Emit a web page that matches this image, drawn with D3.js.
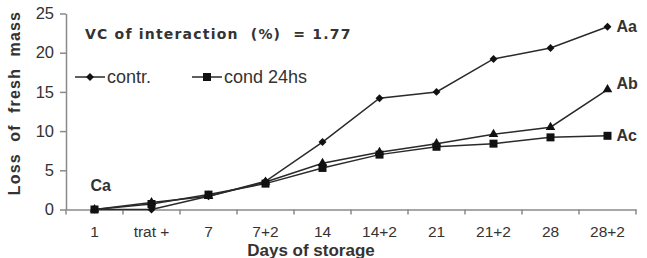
<!DOCTYPE html>
<html>
<head>
<meta charset="utf-8">
<script src="https://cdn.jsdelivr.net/npm/d3@7"></script>
<style>
  body { margin: 0; background: #fff; }
  svg { display: block; font-family: "Liberation Sans", Arial, sans-serif; }
</style>
</head>
<body>
<svg id="drawing_region"></svg>
<script>
// data
const days = ["1", "trat +", "7", "7+2", "14", "14+2", "21", "21+2", "28", "28+2"];
const contr = [0, 0, 1.7, 3.6, 8.6, 14.2, 15.0, 19.2, 20.6, 23.3];
const cond24 = [0, 0.7, 1.9, 3.3, 5.3, 7.0, 8.0, 8.4, 9.2, 9.4];
const third = [0, 0.9, 1.7, 3.5, 5.9, 7.3, 8.4, 9.6, 10.5, 15.3];
const yTicks = [0, 5, 10, 15, 20, 25];
const endLabels = ["Aa", "Ac", "Ab"];

const config = {
    width: 647,
    height: 258,
    margin: { top: 13.5, right: 11, bottom: 48.5, left: 66 }
};

const svg = d3.select('#drawing_region')
    .attr('width', config.width)
    .attr('height', config.height);

const inner_width = config.width - config.margin.left - config.margin.right;
const inner_height = config.height - config.margin.top - config.margin.bottom;

const chart = svg.append('g')
    .attr('transform', `translate(${config.margin.left}, ${config.margin.top})`);

const xscale = d3.scaleBand().domain(days).range([0, inner_width]);
const yscale = d3.scaleLinear().domain([0, 25]).range([inner_height, 0]);

const axisColor = "#8a8a8a";
const textColor = "#333";

// axes
const xaxis_group = chart.append('g')
    .attr('transform', `translate(0, ${inner_height})`)
    .call(d3.axisBottom(xscale).tickSizeOuter(0).tickSize(0).tickPadding(16));
xaxis_group.select('.domain').attr('stroke', axisColor).attr('stroke-width', 1.5);
xaxis_group.selectAll('text').attr('font-size', 15.5).attr('fill', textColor)
    .attr('font-family', '"Liberation Sans", Arial, sans-serif');
// ticks between categories
chart.append('g').selectAll('line')
    .data(d3.range(days.length + 1))
    .join('line')
    .attr('x1', i => i * xscale.step())
    .attr('x2', i => i * xscale.step())
    .attr('y1', inner_height)
    .attr('y2', inner_height + 5)
    .attr('stroke', axisColor)
    .attr('stroke-width', 1.5);

const yaxis_group = chart.append('g')
    .call(d3.axisLeft(yscale).tickValues(yTicks).tickSize(6).tickSizeOuter(0).tickPadding(6));
yaxis_group.select('.domain').attr('stroke', axisColor).attr('stroke-width', 1.5);
yaxis_group.selectAll('line').attr('stroke', axisColor).attr('stroke-width', 1.5);
yaxis_group.selectAll('text').attr('font-size', 16.5).attr('fill', textColor)
    .attr('font-family', '"Liberation Sans", Arial, sans-serif');

// axis titles
svg.append('text')
    .attr('x', 311)
    .attr('y', 255.5)
    .attr('text-anchor', 'middle')
    .attr('font-size', 17)
    .attr('font-weight', 'bold')
    .attr('fill', textColor)
    .text('Days of storage');

svg.append('text')
    .attr('transform', 'translate(20, 103) rotate(-90)')
    .attr('text-anchor', 'middle')
    .attr('font-size', 16)
    .attr('font-weight', 'bold')
    .attr('letter-spacing', 1.2)
    .attr('fill', textColor)
    .attr('xml:space', 'preserve')
    .text('Loss  of  fresh  mass');

svg.append('text')
    .attr('x', 85)
    .attr('y', 39)
    .attr('font-size', 14)
    .attr('font-weight', 'bold')
    .attr('font-family', '"DejaVu Sans", Verdana, sans-serif')
    .attr('letter-spacing', 1.2)
    .attr('fill', textColor)
    .attr('xml:space', 'preserve')
    .text('VC of interaction  (%)  = 1.77');

// series
const series = [
    { name: "contr.", values: contr, symbol: d3.symbolDiamond2, size: 40 },
    { name: "cond 24hs", values: cond24, symbol: d3.symbolSquare, size: 64 },
    { name: "", values: third, symbol: d3.symbolTriangle, size: 40 }
];

const line = d3.line()
    .x((d, i) => xscale(days[i]) + xscale.bandwidth() / 2)
    .y(d => yscale(d));

series.forEach(s => {
    chart.append('path')
        .datum(s.values)
        .attr('fill', 'none')
        .attr('stroke', '#2a2a2a')
        .attr('stroke-width', 1.5)
        .attr('d', line);
});
series.forEach(s => {
    chart.append('g').selectAll('path')
        .data(s.values)
        .join('path')
        .attr('transform', (d, i) => `translate(${xscale(days[i]) + xscale.bandwidth() / 2}, ${yscale(d)})`)
        .attr('d', d3.symbol().type(s.symbol).size(s.size))
        .attr('fill', '#111');
});

// end labels
const lastX = xscale(days[days.length - 1]) + xscale.bandwidth() / 2;
[contr, cond24, third].forEach((v, i) => {
    chart.append('text')
        .attr('x', lastX + 9)
        .attr('y', yscale(v[v.length - 1]) + (i === 2 ? -6 : 0))
        .attr('dy', '0.35em')
        .attr('font-size', 16)
        .attr('font-weight', 'bold')
        .attr('fill', textColor)
        .text(endLabels[i]);
});
chart.append('text')
    .attr('x', xscale(days[0]) + xscale.bandwidth() / 2 - 4)
    .attr('y', yscale(3.1))
    .attr('dy', '0.35em')
    .attr('font-size', 16)
    .attr('font-weight', 'bold')
    .attr('fill', textColor)
    .text('Ca');

// legend
const legend = svg.append('g').attr('transform', 'translate(75, 77)');
[series[0], series[1]].forEach((s, i) => {
    const g = legend.append('g').attr('transform', `translate(${i * 117}, 0)`);
    g.append('line').attr('x1', 0).attr('x2', 30).attr('stroke', '#2a2a2a').attr('stroke-width', 1.5);
    g.append('path').attr('transform', 'translate(15,0)')
        .attr('d', d3.symbol().type(s.symbol).size(s.size)).attr('fill', '#111');
    g.append('text').attr('x', 32).attr('dy', '0.35em')
        .attr('font-size', 18).attr('fill', textColor).text(s.name);
});
</script>
</body>
</html>
